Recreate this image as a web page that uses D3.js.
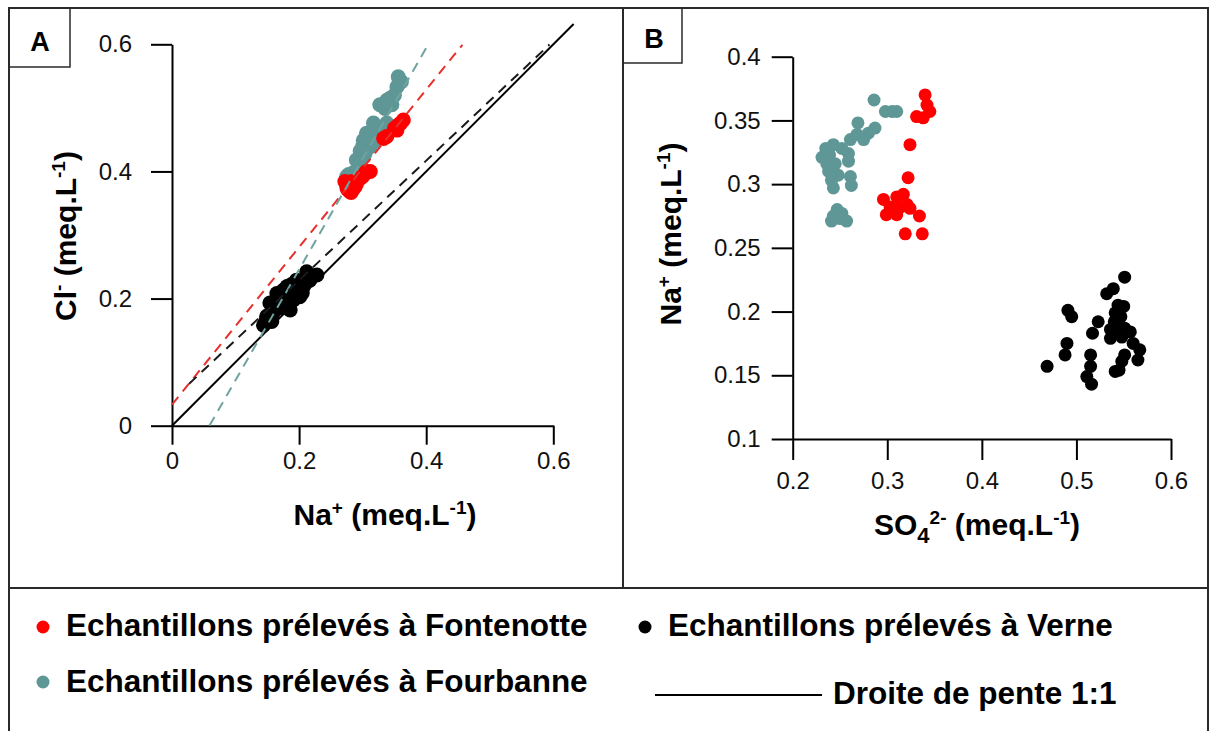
<!DOCTYPE html>
<html>
<head>
<meta charset="utf-8">
<script src="https://cdn.jsdelivr.net/npm/d3@7"></script>
<style>
  body { margin: 0; background: #fff; }
  svg { display: block; font-family: "Liberation Sans", Arial, sans-serif; }
</style>
</head>
<body>
<svg width="1215" height="731"></svg>
<script>
// ---- data ----
// panel A : [Na+, Cl-]  (meq/L)
const fontenotteNaCl = [
  [0.364,0.481],[0.356,0.473],[0.354,0.465],[0.333,0.452],[0.304,0.397],[0.312,0.400],
  [0.283,0.384],[0.275,0.376],[0.288,0.376],[0.280,0.368],[0.296,0.389],[0.272,0.384],
  [0.285,0.372],[0.278,0.380],[0.276,0.372],[0.282,0.367],[0.290,0.380],[0.300,0.392],
  [0.306,0.400],[0.360,0.476],[0.350,0.468],[0.338,0.455]
];
const fourbanneNaCl = [
  [0.361,0.541],[0.356,0.549],[0.354,0.533],[0.338,0.512],[0.335,0.499],[0.346,0.505],
  [0.327,0.505],[0.306,0.460],[0.317,0.465],[0.327,0.468],[0.301,0.449],[0.312,0.439],
  [0.304,0.429],[0.296,0.407],[0.275,0.392],[0.317,0.476],[0.338,0.476],[0.309,0.452],
  [0.322,0.455],[0.300,0.440],[0.306,0.445],[0.296,0.432],[0.320,0.448],[0.330,0.458],
  [0.343,0.515],[0.350,0.520],[0.340,0.505],[0.358,0.540],[0.290,0.418],[0.302,0.423],
  [0.285,0.398],[0.278,0.395]
];
const verneNaCl = [
  [0.228,0.237],[0.212,0.242],[0.217,0.229],[0.196,0.229],[0.181,0.219],[0.196,0.214],
  [0.207,0.219],[0.165,0.208],[0.175,0.200],[0.191,0.198],[0.154,0.193],[0.170,0.185],
  [0.186,0.182],[0.159,0.177],[0.149,0.172],[0.144,0.158],[0.181,0.193],[0.201,0.203],
  [0.157,0.164],[0.186,0.208],[0.170,0.196],[0.175,0.213],[0.188,0.222],[0.200,0.224],
  [0.210,0.230],[0.163,0.185],[0.168,0.200],[0.180,0.205],[0.192,0.212],[0.205,0.209],
  [0.155,0.176],[0.148,0.165],[0.178,0.186]
];

// panel B : [SO4 2-, Na+]  (meq/L)
const fontenotteSO4Na = [
  [0.340,0.370],[0.342,0.362],[0.345,0.357],[0.331,0.353],[0.338,0.352],[0.324,0.331],
  [0.322,0.305],[0.296,0.288],[0.303,0.282],[0.299,0.276],[0.310,0.290],[0.317,0.292],
  [0.314,0.282],[0.321,0.284],[0.310,0.276],[0.324,0.281],[0.306,0.280],[0.334,0.275],
  [0.319,0.261],[0.337,0.261]
];
const fourbanneSO4Na = [
  [0.286,0.366],[0.298,0.357],[0.305,0.357],[0.310,0.357],[0.269,0.348],[0.287,0.344],
  [0.280,0.340],[0.275,0.335],[0.261,0.335],[0.268,0.339],[0.243,0.331],[0.252,0.328],
  [0.239,0.323],[0.259,0.324],[0.236,0.316],[0.245,0.316],[0.259,0.318],[0.238,0.310],
  [0.248,0.307],[0.261,0.306],[0.243,0.297],[0.262,0.299],[0.241,0.303],[0.247,0.280],
  [0.243,0.275],[0.250,0.273],[0.257,0.271],[0.241,0.271],[0.252,0.277],[0.231,0.321],
  [0.235,0.328]
];
const verneSO4Na = [
  [0.551,0.227],[0.539,0.218],[0.532,0.214],[0.544,0.205],[0.550,0.204],[0.541,0.199],
  [0.547,0.196],[0.491,0.201],[0.495,0.196],[0.523,0.192],[0.517,0.183],[0.536,0.186],
  [0.543,0.188],[0.551,0.187],[0.557,0.184],[0.536,0.179],[0.548,0.180],[0.560,0.175],
  [0.567,0.170],[0.565,0.162],[0.551,0.166],[0.548,0.161],[0.541,0.153],[0.545,0.154],
  [0.490,0.175],[0.488,0.166],[0.469,0.157],[0.515,0.166],[0.515,0.157],[0.511,0.149],
  [0.516,0.143],[0.540,0.192],[0.545,0.183]
];

// fitted lines in panel A (Cl = slope * Na + intercept) and the 1:1 line
const fitSites = ["Fontenotte", "Fourbanne", "Verne"];
const fitSlopes = [1.239, 1.742, 0.941];
const fitIntercepts = [0.033, -0.1026, 0.0406];
const fitRanges = [[0, 0.457], [0.059, 0.403], [0.027, 0.594]];
const oneToOne = [0, 0.632];

const ticksA = [0, 0.2, 0.4, 0.6];
const ticksBx = [0.2, 0.3, 0.4, 0.5, 0.6];
const ticksBy = [0.1, 0.15, 0.2, 0.25, 0.3, 0.35, 0.4];

const legendItems = [
  "Echantillons prélevés à Fontenotte",
  "Echantillons prélevés à Verne",
  "Echantillons prélevés à Fourbanne",
  "Droite de pente 1:1"
];

const colors = { Fontenotte: "#ff0000", Fourbanne: "#5f9797", Verne: "#000000" };
const dashColors = { Fontenotte: "#e8302c", Fourbanne: "#6fa3a1", Verne: "#1a1a1a" };

const svg = d3.select("svg");
const R = 6.5;    // panel B and legend dots
const RA = 7.5;   // panel A dots

// ---- frame ----
const frame = svg.append("g").attr("stroke", "#2a2a2a").attr("stroke-width", 2).attr("fill", "none");
frame.append("path").attr("d", "M9,731V8H1208V731");
frame.append("line").attr("x1", 9).attr("x2", 1208).attr("y1", 588).attr("y2", 588);
frame.append("line").attr("x1", 623).attr("x2", 623).attr("y1", 8).attr("y2", 588);
frame.append("rect").attr("x", 9).attr("y", 8).attr("width", 61).attr("height", 59).attr("stroke-width", 1.5);
frame.append("rect").attr("x", 623).attr("y", 8).attr("width", 59).attr("height", 55).attr("stroke-width", 1.5);
svg.append("text").attr("x", 40).attr("y", 51).attr("text-anchor", "middle")
  .attr("font-size", 27).attr("font-weight", "bold").text("A");
svg.append("text").attr("x", 654).attr("y", 48).attr("text-anchor", "middle")
  .attr("font-size", 27).attr("font-weight", "bold").text("B");

function styleAxis(g) {
  g.selectAll("path.domain").attr("stroke", "#000").attr("stroke-width", 2);
  g.selectAll(".tick line").attr("stroke", "#000").attr("stroke-width", 2);
  g.selectAll(".tick text").attr("font-size", 24).attr("fill", "#111")
    .attr("font-family", "'Liberation Sans', Arial, sans-serif");
}
const fmt = d => d === 0 ? "0" : String(d);

// ---- panel A ----
const xA = d3.scaleLinear().domain([0, 0.6]).range([172, 553.3]);
const yA = d3.scaleLinear().domain([0, 0.6]).range([425.7, 44.3]);

svg.append("g").attr("transform", "translate(0,425.7)")
  .call(d3.axisBottom(xA).tickValues(ticksA).tickFormat(fmt).tickSize(19).tickSizeOuter(0).tickPadding(7))
  .call(styleAxis);
svg.append("g").attr("transform", "translate(172,0)")
  .call(d3.axisLeft(yA).tickValues(ticksA).tickFormat(fmt).tickSize(21).tickSizeOuter(0).tickPadding(19))
  .call(styleAxis);

const ptsA = svg.append("g");
[["Fourbanne", fourbanneNaCl], ["Fontenotte", fontenotteNaCl], ["Verne", verneNaCl]].forEach(([site, data]) => {
  ptsA.selectAll(null).data(data).join("circle")
    .attr("cx", d => xA(d[0])).attr("cy", d => yA(d[1])).attr("r", RA)
    .attr("fill", colors[site]);
});

const lineA = d3.line().x(d => xA(d[0])).y(d => yA(d[1]));
svg.append("path").datum([[oneToOne[0], oneToOne[0]], [oneToOne[1], oneToOne[1]]])
  .attr("d", lineA).attr("stroke", "#000").attr("stroke-width", 2).attr("fill", "none");
fitSites.forEach((site, i) => {
  const pts = fitRanges[i].map(x => [x, fitSlopes[i] * x + fitIntercepts[i]]);
  svg.append("path").datum(pts).attr("d", lineA)
    .attr("stroke", dashColors[site]).attr("stroke-width", 2)
    .attr("stroke-dasharray", "10,7").attr("fill", "none");
});

svg.append("text").attr("x", 385).attr("y", 525).attr("text-anchor", "middle")
  .attr("font-size", 30).attr("font-weight", "bold")
  .call(t => {
    t.append("tspan").text("Na");
    t.append("tspan").attr("font-size", 19).attr("baseline-shift", 11).text("+");
    t.append("tspan").text(" (meq.L");
    t.append("tspan").attr("font-size", 19).attr("baseline-shift", 11).text("-1");
    t.append("tspan").text(")");
  });
svg.append("text").attr("transform", "translate(76,236) rotate(-90)").attr("text-anchor", "middle")
  .attr("font-size", 30).attr("font-weight", "bold")
  .call(t => {
    t.append("tspan").text("Cl");
    t.append("tspan").attr("font-size", 19).attr("baseline-shift", 11).text("-");
    t.append("tspan").text(" (meq.L");
    t.append("tspan").attr("font-size", 19).attr("baseline-shift", 11).text("-1");
    t.append("tspan").text(")");
  });

// ---- panel B ----
const xB = d3.scaleLinear().domain([0.2, 0.6]).range([792.7, 1171]);
const yB = d3.scaleLinear().domain([0.1, 0.4]).range([439, 56.7]);

svg.append("g").attr("transform", "translate(0,439)")
  .call(d3.axisBottom(xB).tickValues(ticksBx).tickFormat(fmt).tickSize(21).tickSizeOuter(0).tickPadding(12))
  .call(styleAxis);
svg.append("g").attr("transform", "translate(792.7,0)")
  .call(d3.axisLeft(yB).tickValues(ticksBy).tickFormat(fmt).tickSize(21).tickSizeOuter(0).tickPadding(11))
  .call(styleAxis);

const ptsB = svg.append("g");
[["Fourbanne", fourbanneSO4Na], ["Fontenotte", fontenotteSO4Na], ["Verne", verneSO4Na]].forEach(([site, data]) => {
  ptsB.selectAll(null).data(data).join("circle")
    .attr("cx", d => xB(d[0])).attr("cy", d => yB(d[1])).attr("r", R)
    .attr("fill", colors[site]);
});

svg.append("text").attr("x", 977).attr("y", 535).attr("text-anchor", "middle")
  .attr("font-size", 30).attr("font-weight", "bold")
  .call(t => {
    t.append("tspan").text("SO");
    t.append("tspan").attr("font-size", 22).attr("baseline-shift", -8).text("4");
    t.append("tspan").attr("font-size", 19).attr("baseline-shift", 11).text("2-");
    t.append("tspan").text(" (meq.L");
    t.append("tspan").attr("font-size", 19).attr("baseline-shift", 11).text("-1");
    t.append("tspan").text(")");
  });
svg.append("text").attr("transform", "translate(681,234) rotate(-90)").attr("text-anchor", "middle")
  .attr("font-size", 30).attr("font-weight", "bold")
  .call(t => {
    t.append("tspan").text("Na");
    t.append("tspan").attr("font-size", 19).attr("baseline-shift", 11).text("+");
    t.append("tspan").text(" (meq.L");
    t.append("tspan").attr("font-size", 19).attr("baseline-shift", 11).text("-1");
    t.append("tspan").text(")");
  });

// ---- legend ----
const leg = svg.append("g").attr("font-size", 31.5).attr("font-weight", "bold");
leg.append("circle").attr("cx", 43).attr("cy", 627).attr("r", R).attr("fill", colors.Fontenotte);
leg.append("text").attr("x", 66).attr("y", 636).text(legendItems[0]);
leg.append("circle").attr("cx", 645).attr("cy", 627).attr("r", R).attr("fill", colors.Verne);
leg.append("text").attr("x", 668).attr("y", 636).text(legendItems[1]);
leg.append("circle").attr("cx", 43).attr("cy", 682).attr("r", R).attr("fill", colors.Fourbanne);
leg.append("text").attr("x", 66).attr("y", 692).text(legendItems[2]);
leg.append("line").attr("x1", 655).attr("x2", 822).attr("y1", 695).attr("y2", 695)
  .attr("stroke", "#000").attr("stroke-width", 2);
leg.append("text").attr("x", 833).attr("y", 704).text(legendItems[3]);
</script>
</body>
</html>
